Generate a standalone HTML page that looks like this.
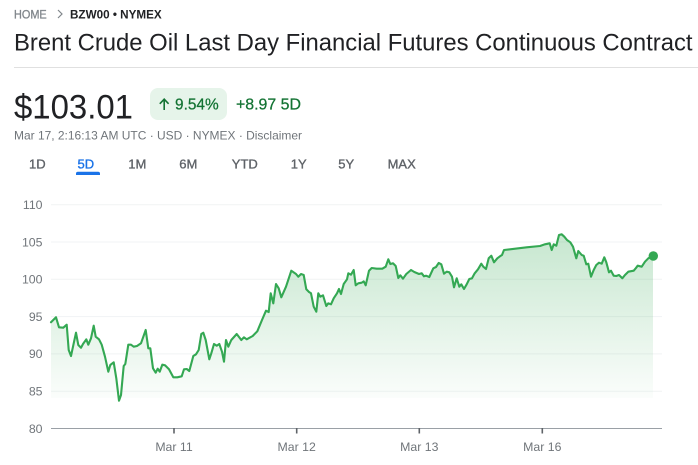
<!DOCTYPE html>
<html><head><meta charset="utf-8"><style>
html,body{margin:0;padding:0;background:#fff;}
svg{display:block;font-family:"Liberation Sans",Arial,sans-serif;}
</style></head><body>
<svg width="698" height="465" viewBox="0 0 698 465" xmlns="http://www.w3.org/2000/svg">
<defs>
<linearGradient id="g" x1="0" y1="234" x2="0" y2="398" gradientUnits="userSpaceOnUse">
<stop offset="0" stop-color="#34a853" stop-opacity="0.28"/>
<stop offset="1" stop-color="#34a853" stop-opacity="0.02"/>
</linearGradient>
</defs>
<rect width="698" height="465" fill="#fff"/>
<!-- breadcrumb -->
<text x="14" y="18.3" font-size="11.5" fill="#80868b" stroke="#80868b" stroke-width="0.3" textLength="32.7" lengthAdjust="spacingAndGlyphs">HOME</text>
<polyline points="58,10 62,14 58,18" fill="none" stroke="#80868b" stroke-width="1.2"/>
<text x="70" y="18.3" font-size="11.5" font-weight="bold" fill="#202124" textLength="91.7" lengthAdjust="spacingAndGlyphs">BZW00 • NYMEX</text>
<!-- title -->
<text x="14" y="50.7" font-size="24" fill="#202124" textLength="678.5" lengthAdjust="spacingAndGlyphs">Brent Crude Oil Last Day Financial Futures Continuous Contract</text>
<rect x="14" y="67" width="684" height="1" fill="#e0e0e0"/>
<!-- price -->
<text x="14" y="118.3" font-size="34" fill="#202124" textLength="119" lengthAdjust="spacingAndGlyphs">$103.01</text>
<rect x="150" y="88" width="77" height="32" rx="8" fill="#e6f4ea"/>
<path d="M164.2,110 L164.2,99.5 M159.8,103.8 L164.2,99.2 L168.6,103.8" fill="none" stroke="#137333" stroke-width="1.6"/>
<text x="175" y="109.5" font-size="16" fill="#137333" stroke="#137333" stroke-width="0.25" textLength="43.7" lengthAdjust="spacingAndGlyphs">9.54%</text>
<text x="236" y="109.5" font-size="16" fill="#137333" stroke="#137333" stroke-width="0.25" textLength="65" lengthAdjust="spacingAndGlyphs">+8.97 5D</text>
<text x="14" y="139.3" font-size="12" fill="#70757a" textLength="288" lengthAdjust="spacingAndGlyphs">Mar 17, 2:16:13 AM UTC · USD · NYMEX · Disclaimer</text>
<!-- tabs -->
<g font-size="13" fill="#5f6368" stroke="#5f6368" stroke-width="0.35">
<text x="29" y="168.6">1D</text>
<text x="77.5" y="168.6" fill="#1a73e8" stroke="#1a73e8">5D</text>
<text x="128.3" y="168.6">1M</text>
<text x="179.3" y="168.6">6M</text>
<text x="231.8" y="168.6">YTD</text>
<text x="290.8" y="168.6">1Y</text>
<text x="338.3" y="168.6">5Y</text>
<text x="387.6" y="168.6">MAX</text>
</g>
<path d="M76,175 L76,173.5 Q76,171.7 78,171.7 L98,171.7 Q100,171.7 100,173.5 L100,175 Z" fill="#1a73e8"/>
<!-- gridlines -->
<g stroke="#f1f3f4" stroke-width="1">
<line x1="51" y1="204.7" x2="662" y2="204.7"/>
<line x1="51" y1="242" x2="662" y2="242"/>
<line x1="51" y1="279.3" x2="662" y2="279.3"/>
<line x1="51" y1="316.6" x2="662" y2="316.6"/>
<line x1="51" y1="353.9" x2="662" y2="353.9"/>
<line x1="51" y1="391.2" x2="662" y2="391.2"/>
</g>
<!-- y labels -->
<g font-size="12.3" fill="#70757a" text-anchor="end">
<text x="42.5" y="209">110</text>
<text x="42.5" y="246.3">105</text>
<text x="42.5" y="283.6">100</text>
<text x="42.5" y="320.9">95</text>
<text x="42.5" y="358.2">90</text>
<text x="42.5" y="395.5">85</text>
<text x="42.5" y="432.8">80</text>
</g>
<!-- area -->
<polygon fill="url(#g)" points="51,322.3 56,317.3 59,327.3 63.3,327.7 66.7,324.7 68.7,350 71,356 76,332.7 78.3,345 81,347.7 83,344 86.3,339.3 88.3,344.7 91,338.3 93.7,325.7 95.7,336.7 99,339.3 101.7,344.7 105,356.7 108.3,371.7 110.3,365 113.7,362.3 116.3,378.3 119,400.7 121,395 123.7,366 125.3,364 128.3,344.7 131,344.7 133.7,346.7 137,346 141,343.3 145.7,330 148.3,348.3 150.3,348.3 153,368.3 155.7,372.7 157.7,368.7 159.7,371.7 162.3,364.7 165,365.3 169,369.3 173.3,377.3 177.3,377.3 181.7,376.3 184,369.3 186.7,369 189.3,371 193.3,356 196,354.3 198.7,350 201.3,334 203.3,332.7 205.7,340 209.3,359.3 211.3,353.3 214,344 216.7,345.7 219.3,344 222,351.7 224,361.7 226,340 228.3,346.7 231.3,340 236.7,334 241.3,340 244,337.3 246.7,339.3 252.7,336 257.3,331.3 262,320 266,310.7 268.7,312 270.7,293.3 273.3,303.3 276,284 278.7,288.3 281.3,297.3 286,286.7 291.3,270.7 296,274 298.3,276.7 301,274 303.7,275 306.3,289.3 309,292 311,293.3 313.7,306.7 316.3,311.7 318.3,293.3 320.3,296.7 323,295.3 326.3,306 328.3,303.3 331,304.3 333.7,298.3 337,293.3 339,289 341,294 343.7,284 347,279.3 348.3,273.3 351,274.7 353.7,270 355.7,285.3 358.3,283.3 361.7,282.7 363.7,281.3 365.7,285.3 369,270.7 371.7,268 376.7,268.7 382.3,268.7 385.7,266.7 388.3,259.3 390.3,264 393,263.3 395.7,266 398.3,278 400.3,275.3 403,278.7 406.3,274 411,270 414.3,272 419,274 421.7,273.3 424,276.3 426,275.7 429.3,277 433.3,268.3 436,267 438.7,263 441.3,264.3 444,273.7 446.7,271.7 449.3,272.3 452,276.7 454,287.3 456.7,278.3 459.3,286.7 461.3,284.3 464,289 466.7,284.3 469.3,279 472,278.3 474.7,273.3 478,269.3 481.3,263.7 483.3,266.7 486,269 488.7,258.3 491.3,255.7 494,262.3 497.3,258.3 500,256.3 502,255 504,250 526.7,247.3 540,246 545,244.3 549.7,243.3 551.7,250 553.7,244.3 556.3,245.7 559,235 561.7,234.3 564.3,236.7 567,240 570.3,242.3 573,246.7 576.3,258.3 578.3,251 581.7,255 583.7,255.7 586.3,264.3 588.3,263.7 591,276.7 593.7,270 596.3,265 599,262.7 601.7,263.7 604.3,257.3 606.3,262.3 609,272.3 611,270.7 613.7,275.7 616.3,276 619,275 622.3,278.3 625,275 628.3,271.7 633.7,270.7 635.7,268.3 637.7,265.7 641.7,266.7 645,261.7 648.3,258.3 652.3,256 653,256 653,398 51,398"/>
<!-- line -->
<polyline fill="none" stroke="#34a853" stroke-width="2.1" stroke-linejoin="round" stroke-linecap="round" points="51,322.3 56,317.3 59,327.3 63.3,327.7 66.7,324.7 68.7,350 71,356 76,332.7 78.3,345 81,347.7 83,344 86.3,339.3 88.3,344.7 91,338.3 93.7,325.7 95.7,336.7 99,339.3 101.7,344.7 105,356.7 108.3,371.7 110.3,365 113.7,362.3 116.3,378.3 119,400.7 121,395 123.7,366 125.3,364 128.3,344.7 131,344.7 133.7,346.7 137,346 141,343.3 145.7,330 148.3,348.3 150.3,348.3 153,368.3 155.7,372.7 157.7,368.7 159.7,371.7 162.3,364.7 165,365.3 169,369.3 173.3,377.3 177.3,377.3 181.7,376.3 184,369.3 186.7,369 189.3,371 193.3,356 196,354.3 198.7,350 201.3,334 203.3,332.7 205.7,340 209.3,359.3 211.3,353.3 214,344 216.7,345.7 219.3,344 222,351.7 224,361.7 226,340 228.3,346.7 231.3,340 236.7,334 241.3,340 244,337.3 246.7,339.3 252.7,336 257.3,331.3 262,320 266,310.7 268.7,312 270.7,293.3 273.3,303.3 276,284 278.7,288.3 281.3,297.3 286,286.7 291.3,270.7 296,274 298.3,276.7 301,274 303.7,275 306.3,289.3 309,292 311,293.3 313.7,306.7 316.3,311.7 318.3,293.3 320.3,296.7 323,295.3 326.3,306 328.3,303.3 331,304.3 333.7,298.3 337,293.3 339,289 341,294 343.7,284 347,279.3 348.3,273.3 351,274.7 353.7,270 355.7,285.3 358.3,283.3 361.7,282.7 363.7,281.3 365.7,285.3 369,270.7 371.7,268 376.7,268.7 382.3,268.7 385.7,266.7 388.3,259.3 390.3,264 393,263.3 395.7,266 398.3,278 400.3,275.3 403,278.7 406.3,274 411,270 414.3,272 419,274 421.7,273.3 424,276.3 426,275.7 429.3,277 433.3,268.3 436,267 438.7,263 441.3,264.3 444,273.7 446.7,271.7 449.3,272.3 452,276.7 454,287.3 456.7,278.3 459.3,286.7 461.3,284.3 464,289 466.7,284.3 469.3,279 472,278.3 474.7,273.3 478,269.3 481.3,263.7 483.3,266.7 486,269 488.7,258.3 491.3,255.7 494,262.3 497.3,258.3 500,256.3 502,255 504,250 526.7,247.3 540,246 545,244.3 549.7,243.3 551.7,250 553.7,244.3 556.3,245.7 559,235 561.7,234.3 564.3,236.7 567,240 570.3,242.3 573,246.7 576.3,258.3 578.3,251 581.7,255 583.7,255.7 586.3,264.3 588.3,263.7 591,276.7 593.7,270 596.3,265 599,262.7 601.7,263.7 604.3,257.3 606.3,262.3 609,272.3 611,270.7 613.7,275.7 616.3,276 619,275 622.3,278.3 625,275 628.3,271.7 633.7,270.7 635.7,268.3 637.7,265.7 641.7,266.7 645,261.7 648.3,258.3 652.3,256 653,256"/>
<circle cx="653.3" cy="256" r="4.7" fill="#34a853"/>
<!-- x axis -->
<line x1="51" y1="428.5" x2="662" y2="428.5" stroke="#9aa0a6" stroke-width="1"/>
<g stroke="#5f6368" stroke-width="1.6">
<line x1="174" y1="428" x2="174" y2="433.5"/>
<line x1="296.7" y1="428" x2="296.7" y2="433.5"/>
<line x1="419.3" y1="428" x2="419.3" y2="433.5"/>
<line x1="542.3" y1="428" x2="542.3" y2="433.5"/>
</g>
<g font-size="12.3" fill="#70757a" text-anchor="middle">
<text x="174" y="451">Mar 11</text>
<text x="296.7" y="451">Mar 12</text>
<text x="419.3" y="451">Mar 13</text>
<text x="542.3" y="451">Mar 16</text>
</g>
</svg>
</body></html>
